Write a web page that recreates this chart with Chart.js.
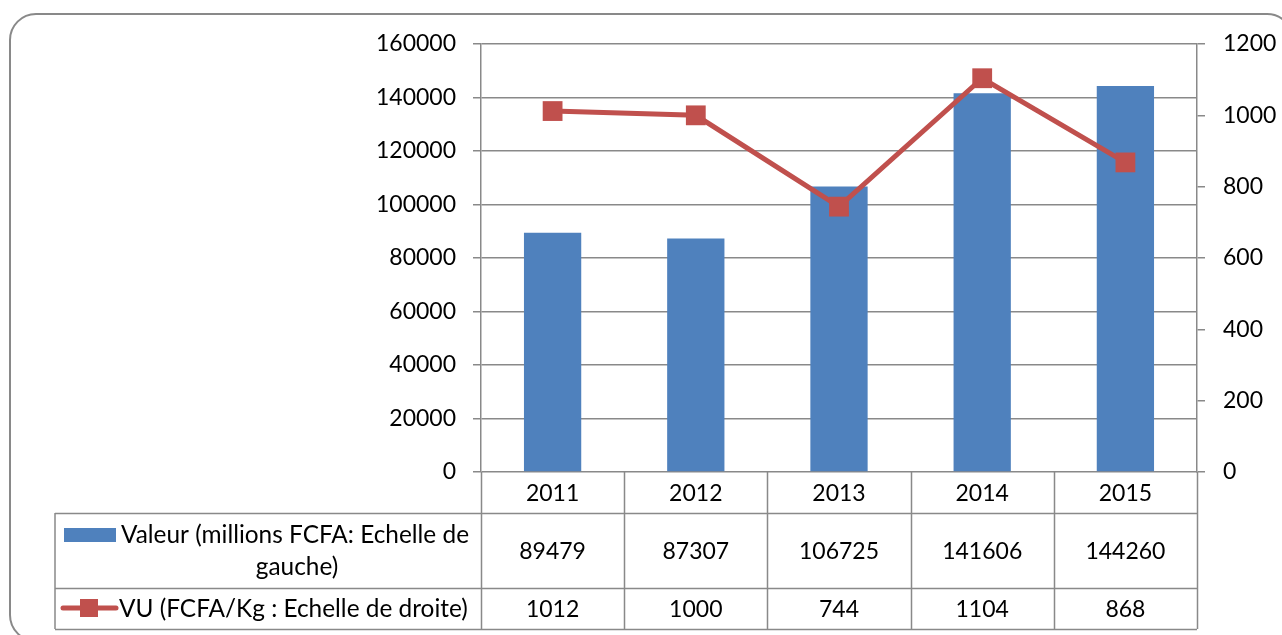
<!DOCTYPE html>
<html>
<head>
<meta charset="utf-8">
<script src="https://cdn.jsdelivr.net/npm/chart.js@4/dist/chart.umd.min.js"></script>
<style>
  html, body { margin: 0; padding: 0; background: #fff; }
  canvas { display: block; }
</style>
</head>
<body>
<canvas id="chart" width="1282" height="635"></canvas>
<script>
const years = ['2011', '2012', '2013', '2014', '2015'];
const valeur = [89479, 87307, 106725, 141606, 144260];
const vu = [1012, 1000, 744, 1104, 868];
const valeurLabel = ['Valeur (millions FCFA: Echelle de', 'gauche)'];
const vuLabel = 'VU (FCFA/Kg : Echelle de droite)';

const FONT = '23px Lato';
const LABEL_FONT = '24.4px Lato';
const GRID = '#898989';
const BLUE = '#4F81BD';
const RED = '#C0504D';

// frame + data table drawn around the chart
const tablePlugin = {
  id: 'table',
  beforeDraw(chart) {
    const ctx = chart.ctx;
    ctx.save();
    ctx.strokeStyle = GRID;
    ctx.lineWidth = 2;
    ctx.beginPath();
    ctx.roundRect(10, 14, 1283, 627, 26);
    ctx.stroke();
    ctx.restore();
  },
  afterDraw(chart) {
    const ctx = chart.ctx;
    const xs = chart.scales.x;
    const area = chart.chartArea;
    const step = xs.getPixelForValue(1) - xs.getPixelForValue(0);
    const rowTop = area.bottom, row1 = 513, row2 = 588, rowEnd = 629, tableLeft = 55;

    ctx.save();
    ctx.strokeStyle = GRID;
    ctx.lineWidth = 1.5;
    ctx.beginPath();
    for (let i = 0; i <= years.length; i++) {
      const x = Math.round(xs.getPixelForValue(i) - step / 2) + 0.5;
      ctx.moveTo(x, rowTop);
      ctx.lineTo(x, rowEnd);
    }
    ctx.moveTo(tableLeft, row1);
    ctx.lineTo(tableLeft, rowEnd);
    [row1, row2, rowEnd].forEach(y => {
      ctx.moveTo(tableLeft, y + 0.5);
      ctx.lineTo(area.right, y + 0.5);
    });
    ctx.stroke();

    ctx.fillStyle = '#000';
    ctx.font = FONT;
    ctx.textAlign = 'center';
    ctx.textBaseline = 'middle';
    years.forEach((y, i) => {
      const x = xs.getPixelForValue(i);
      ctx.fillText(y, x, (rowTop + row1) / 2 + 1);
      ctx.fillText(String(valeur[i]), x, (row1 + row2) / 2 + 1);
      ctx.fillText(String(vu[i]), x, (row2 + rowEnd) / 2 + 1);
    });

    // legend keys + series names
    ctx.font = LABEL_FONT;
    ctx.fillStyle = BLUE;
    ctx.fillRect(64, 528, 52, 14);
    ctx.fillStyle = '#000';
    ctx.textAlign = 'left';
    ctx.fillText(valeurLabel[0], 121, 535);
    ctx.textAlign = 'center';
    ctx.fillText(valeurLabel[1], 297, 567);

    ctx.strokeStyle = RED;
    ctx.lineWidth = 5;
    ctx.lineCap = 'round';
    ctx.beginPath();
    ctx.moveTo(63, 608);
    ctx.lineTo(116, 608);
    ctx.stroke();
    ctx.fillStyle = RED;
    ctx.fillRect(80, 599, 18, 18);
    ctx.fillStyle = '#000';
    ctx.textAlign = 'left';
    ctx.fillText(vuLabel, 119, 609);
    ctx.restore();
  }
};

const plain = v => String(v);

new Chart(document.getElementById('chart'), {
  type: 'bar',
  data: {
    labels: years,
    datasets: [
      {
        type: 'line',
        label: vuLabel,
        data: vu,
        yAxisID: 'y1',
        borderColor: RED,
        backgroundColor: RED,
        borderWidth: 5,
        pointStyle: 'rect',
        pointRadius: 14,
        pointBorderWidth: 0,
        tension: 0,
        order: 0
      },
      {
        type: 'bar',
        label: valeurLabel.join(' '),
        data: valeur,
        yAxisID: 'y',
        backgroundColor: BLUE,
        categoryPercentage: 1,
        barPercentage: 0.4,
        order: 1
      }
    ]
  },
  plugins: [tablePlugin],
  options: {
    responsive: false,
    animation: false,
    layout: { padding: { top: 44, bottom: 163, left: 0, right: 0 } },
    plugins: { legend: { display: false }, tooltip: { enabled: false } },
    scales: {
      x: { display: false },
      y: {
        position: 'left',
        min: 0,
        max: 160000,
        ticks: { stepSize: 20000, color: '#000', font: { family: 'Lato', size: 23 }, padding: 17, callback: plain },
        grid: { color: GRID, lineWidth: 1.5, tickLength: 8 },
        border: { color: GRID, width: 1.5 },
        afterFit: s => { s.width = 481; }
      },
      y1: {
        position: 'right',
        min: 0,
        max: 1200,
        ticks: { stepSize: 200, color: '#000', font: { family: 'Lato', size: 23 }, padding: 18, callback: plain },
        grid: { drawOnChartArea: false, color: GRID, lineWidth: 1.5, tickLength: 8 },
        border: { color: GRID, width: 1.5 },
        afterFit: s => { s.width = 85; }
      }
    }
  }
});
</script>
</body>
</html>
